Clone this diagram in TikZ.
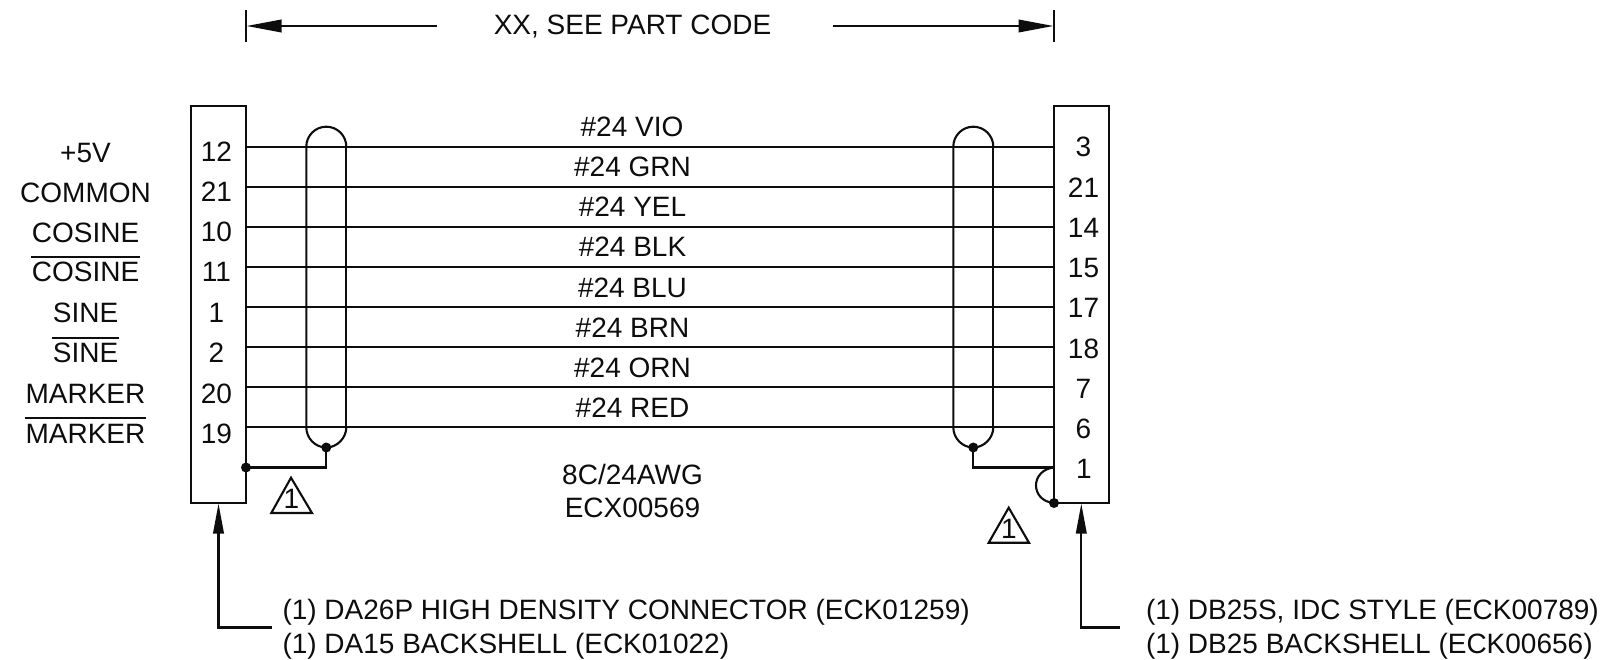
\documentclass[tikz,border=0pt]{standalone}
\usepackage{fontspec}
\setmainfont{Liberation Sans}
\usetikzlibrary{arrows.meta,calc}
\definecolor{ink}{gray}{0.05}
\tikzset{
  wire/.style={draw=ink,line width=2.1pt},
  boxnode/.style={draw=ink,line width=2.2pt,minimum width=55pt,minimum height=397pt,inner sep=0pt,outer sep=0pt},
  txt/.style={text=ink,font=\fontsize{28pt}{32pt}\selectfont,inner sep=0pt,outer sep=0pt,text height=20pt,text depth=0pt},
  barred/.style={txt,inner xsep=1pt,inner ysep=5pt},
  bar/.style={draw=ink,line width=2pt},
  dotnode/.style={circle,fill=ink,minimum size=10pt,inner sep=0pt,outer sep=0pt},
  dimtip/.style={-{Triangle[length=35pt,width=12.5pt]},wire},
  leadtip/.style={-{Triangle[length=30pt,width=10.5pt]},wire},
  tickline/.style={wire}
}
\begin{document}
\begin{tikzpicture}[x=1pt,y=-1pt]
\useasboundingbox (0,0) rectangle (1600,660);
\node[boxnode] (L) at (218.5,304.5) {};
\node[boxnode] (R) at (1081.5,304.5) {};
% dimension line
\coordinate (tl1) at (246,10.5); \coordinate (tl2) at (246,42);
\coordinate (tr1) at (1054,10.5); \coordinate (tr2) at (1054,42);
\draw[tickline] (tl1) -- (tl2);
\draw[tickline] (tr1) -- (tr2);
\node[txt] (dim) at (632.5,25) {XX, SEE PART CODE};
\coordinate (dl) at (437,26); \coordinate (dr) at (833,26);
\coordinate (al) at (246.5,26); \coordinate (ar) at (1053.5,26);
\draw[dimtip] (dl) -- (al);
\draw[dimtip] (dr) -- (ar);
% wires, pin numbers, labels
\foreach \i/\y/\lab/\pl/\py/\pr/\ry/\col in {
 1/146.7/VIO/12/152/3/147/632,
 2/186.7/GRN/21/192/21/187.5/632.5,
 3/226.7/YEL/10/232/14/227.5/632.5,
 4/266.9/BLK/11/272/15/267.5/632.5,
 5/307/BLU/1/312/17/307.5/632.5,
 6/347/BRN/2/352/18/348/632.5,
 7/387.2/ORN/20/393/7/388/632.5,
 8/427.3/RED/19/433/6/428/632.5}{
  \coordinate (wl\i) at (L.east |- 0,\y);
  \coordinate (wr\i) at (R.west |- 0,\y);
  \draw[wire] (wl\i) -- (wr\i);
  \node[txt] (wn\i) at (\col,\y-20) {\#24 \lab};
  \node[txt] (pl\i) at (216.5,\py) {\pl};
  \node[txt] (pr\i) at (1083.5,\ry) {\pr};
}
\node[txt] (pr9) at (1084,468) {1};
% signal names
\node[txt] (s1) at (85.5,153) {+5V};
\node[txt] (s2) at (85.5,192.5) {COMMON};
\node[txt] (s3) at (85.5,232.5) {COSINE};
\node[barred] (s4) at (85.5,272) {COSINE};
\node[txt] (s5) at (85.5,312.5) {SINE};
\node[barred] (s6) at (85.5,352.5) {SINE};
\node[txt] (s7) at (85.5,393) {MARKER};
\node[barred] (s8) at (85.5,433) {MARKER};
\draw[bar] (s4.north west) -- (s4.north east);
\draw[bar] (s6.north west) -- (s6.north east);
\draw[bar] (s8.north west) -- (s8.north east);
% shields
\coordinate (sl) at (306.3,146.7); \coordinate (slr) at (346.3,146.7);
\coordinate (sr) at (953.3,146.7); \coordinate (srr) at (993.3,146.7);
\draw[wire] (306.3,427.3) -- (sl) arc[start angle=180,end angle=360,radius=20] ;
\draw[wire] (346.3,146.7) -- (346.3,427.3);
\draw[wire] (953.3,427.3) -- (sr) arc[start angle=180,end angle=360,radius=20];
\draw[wire] (993.3,146.7) -- (993.3,427.3);
\node[dotnode] (dsl) at (326.3,447.5) {};
\node[dotnode] (dsr) at (973.3,447.5) {};
\draw[wire] (306.3,427.3) .. controls (306.3,438) and (315,447.5) .. (dsl.center) .. controls (337,447.5) and (346.3,438) .. (346.3,427.3);
\draw[wire] (953.3,427.3) .. controls (953.3,438) and (962,447.5) .. (dsr.center) .. controls (984,447.5) and (993.3,438) .. (993.3,427.3);
% grounds
\node[dotnode] (gl) at (246,467.5) {};
\node[dotnode] (gr) at (1054,503) {};
\coordinate (jr) at (1054,467.5);
\draw[wire] (dsl.center) |- (gl.center);
\draw[wire] (dsr.center) |- (jr);
\draw[wire] (jr) .. controls (1030,470) and (1030,501) .. (gr.center);
% note triangles
\node[txt] (t1) at (291.5,498) {1};
\node[txt] (t2) at (1009,528) {1};
\draw[wire,line join=miter] (291,477.7) -- (271.3,513) -- (312,513) -- cycle;
\draw[wire,line join=miter] (1008.7,507.7) -- (988.7,542.7) -- (1029,542.7) -- cycle;
% leaders
\coordinate (ll) at (218.5,503.5); \coordinate (le) at (272,627.5);
\coordinate (rl) at (1081.3,503.5); \coordinate (re) at (1120,627.5);
\draw[leadtip] (le) -| (ll);
\draw[leadtip] (re) -| (rl);
% notes
\node[txt] (n1) at (632.5,474.5) {8C/24AWG};
\node[txt] (n2) at (632.5,507.5) {ECX00569};
\node[txt,anchor=west] (b1) at (282.5,609) {(1) DA26P HIGH DENSITY CONNECTOR (ECK01259)};
\node[txt,anchor=west] (b2) at (282.5,643.5) {(1) DA15 BACKSHELL (ECK01022)};
\node[txt,anchor=west] (b3) at (1146,609) {(1) DB25S, IDC STYLE (ECK00789)};
\node[txt,anchor=west] (b4) at (1146,643.5) {(1) DB25 BACKSHELL (ECK00656)};
\end{tikzpicture}
\end{document}
